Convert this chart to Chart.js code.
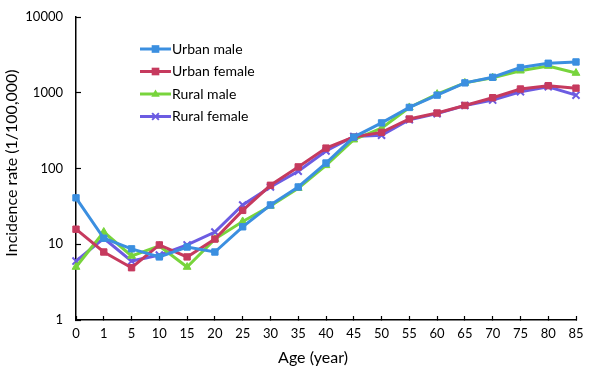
<!DOCTYPE html>
<html>
<head>
<meta charset="utf-8">
<script src="https://cdn.jsdelivr.net/npm/chart.js@4.4.1/dist/chart.umd.min.js"></script>
<style>
html,body{margin:0;padding:0;background:#fff;}
#wrap{width:591px;height:370px;position:relative;}
</style>
</head>
<body>
<div id="wrap"><canvas id="c" width="591" height="370"></canvas></div>
<script>
const ageLabels = ['0','1','5','10','15','20','25','30','35','40','45','50','55','60','65','70','75','80','85'];
const yTickValues = [1, 10, 100, 1000, 10000];
const seriesNames = ['Urban male', 'Urban female', 'Rural male', 'Rural female'];
const xTitle = 'Age (year)';
const yTitle = 'Incidence rate (1/100,000)';
const urbanMale   = [41, 12, 8.7, 6.8, 9.2, 7.9, 17, 33, 57, 118, 260, 400, 640, 930, 1350, 1600, 2150, 2450, 2550];
const urbanFemale = [15.8, 7.9, 4.9, 9.8, 6.8, 11.7, 28, 60, 105, 186, 260, 300, 450, 540, 680, 860, 1120, 1240, 1150];
const ruralMale   = [5.0, 14.5, 7.0, 9.5, 5.0, 11.7, 20, 32, 55, 110, 240, 340, 640, 960, 1350, 1580, 1950, 2250, 1820];
const ruralFemale = [6.0, 12, 6.0, 7.2, 9.8, 14.5, 33, 57, 92, 170, 265, 275, 440, 530, 680, 800, 1030, 1200, 930];

const colors = ['#3b8fe0', '#c63a5e', '#78d43c', '#6c5ce2'];
const styles = ['rect', 'rect', 'triangle', 'crossRot'];
const FONT = 'Lato, "Open Sans", sans-serif';

function ds(label, data, i) {
  return {
    label, data,
    borderColor: colors[i], backgroundColor: colors[i],
    borderWidth: 3, pointStyle: styles[i],
    pointRadius: styles[i] === 'crossRot' ? 5 : 4.5,
    pointBorderWidth: styles[i] === 'crossRot' ? 2 : 1,
    tension: 0
  };
}

function drawMarker(ctx, style, x, y, r, color) {
  ctx.save();
  ctx.fillStyle = color; ctx.strokeStyle = color; ctx.lineWidth = 2;
  ctx.beginPath();
  if (style === 'rect') {
    ctx.rect(x - r * 0.85, y - r * 0.85, r * 1.7, r * 1.7); ctx.fill();
  } else if (style === 'triangle') {
    ctx.moveTo(x, y - r); ctx.lineTo(x + r * 0.95, y + r * 0.6); ctx.lineTo(x - r * 0.95, y + r * 0.6); ctx.closePath(); ctx.fill();
  } else {
    const d = r * 0.75;
    ctx.moveTo(x - d, y - d); ctx.lineTo(x + d, y + d);
    ctx.moveTo(x + d, y - d); ctx.lineTo(x - d, y + d); ctx.stroke();
  }
  ctx.restore();
}

const legendPlugin = {
  id: 'inlineLegend',
  afterDraw(chart) {
    const ctx = chart.ctx;
    const x0 = 140, y0 = 49, dy = 22.5;
    chart.data.datasets.forEach((d, i) => {
      const y = y0 + i * dy;
      ctx.save();
      ctx.strokeStyle = d.borderColor; ctx.lineWidth = 3;
      ctx.beginPath(); ctx.moveTo(x0, y); ctx.lineTo(x0 + 31, y); ctx.stroke();
      ctx.restore();
      drawMarker(ctx, styles[i], x0 + 15.5, y, 4.5, d.borderColor);
      ctx.save();
      ctx.fillStyle = '#000'; ctx.font = '14px ' + FONT;
      ctx.textBaseline = 'middle'; ctx.textAlign = 'left';
      ctx.fillText(d.label, x0 + 32, y);
      ctx.restore();
    });
  }
};

const titlesPlugin = {
  id: 'axisTitles',
  afterDraw(chart) {
    const ctx = chart.ctx;
    ctx.save();
    ctx.fillStyle = '#000'; ctx.font = '16px ' + FONT;
    ctx.textAlign = 'center'; ctx.textBaseline = 'middle';
    ctx.fillText(xTitle, 313, 358);
    ctx.translate(12, 163);
    ctx.rotate(-Math.PI / 2);
    ctx.fillText(yTitle, 0, 0);
    ctx.restore();
  }
};

new Chart(document.getElementById('c'), {
  type: 'line',
  data: {
    labels: ageLabels,
    datasets: [
      ds(seriesNames[0], urbanMale, 0),
      ds(seriesNames[1], urbanFemale, 1),
      ds(seriesNames[2], ruralMale, 2),
      ds(seriesNames[3], ruralFemale, 3)
    ]
  },
  options: {
    responsive: false,
    animation: false,
    layout: { padding: { top: 17, right: 15, bottom: 0, left: 0 } },
    plugins: { legend: { display: false }, tooltip: { enabled: false } },
    scales: {
      x: {
        type: 'category',
        offset: false,
        grid: { display: true, drawOnChartArea: false, color: '#000', tickLength: -4, tickWidth: 1.2 },
        border: { display: true, color: '#000', width: 1.5 },
        ticks: { color: '#000', font: { family: FONT, size: 13 }, padding: 10, maxRotation: 0, autoSkip: false },
        title: { display: false },
        afterFit(s) { s.height = 50; s.paddingLeft = 0; s.paddingRight = 0; }
      },
      y: {
        type: 'logarithmic',
        min: 1, max: 10000,
        afterBuildTicks(s) { s.ticks = yTickValues.map(v => ({ value: v, major: true })); },
        grid: { display: true, drawOnChartArea: false, color: '#000', tickLength: -5, tickWidth: 1.2 },
        border: { display: true, color: '#000', width: 1.5 },
        ticks: { color: '#000', font: { family: FONT, size: 13 }, padding: 18, callback: v => String(v) },
        title: { display: false },
        afterFit(s) { s.width = 76; s.paddingTop = 0; s.paddingBottom = 0; }
      }
    }
  },
  plugins: [legendPlugin, titlesPlugin]
});
</script>
</body>
</html>
